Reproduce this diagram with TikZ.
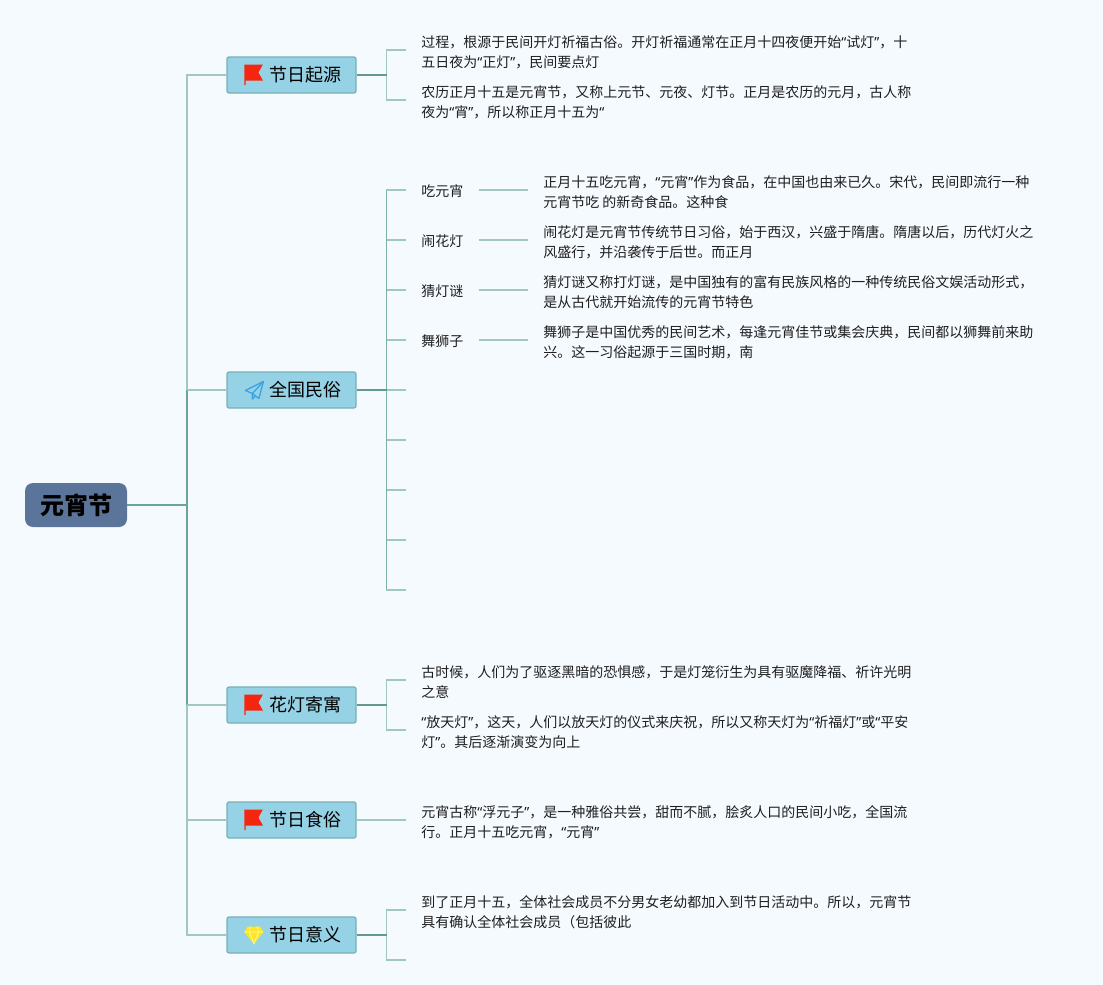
\documentclass[tikz,border=0pt]{standalone}
\usepackage{fontspec}
\setmainfont{Noto Sans CJK SC}
\newfontfamily\latq{Noto Sans}
\newcommand{\ql}{{\latq “}}
\newcommand{\qr}{{\latq ”}}
\usetikzlibrary{calc}
\definecolor{bgc}{HTML}{F5FAFF}
\definecolor{rootc}{HTML}{5B7499}
\definecolor{topicc}{HTML}{96D2E5}
\definecolor{topicb}{HTML}{77B1B5}
\definecolor{dark}{HTML}{6BA598}
\definecolor{deep}{HTML}{64998E}
\definecolor{mid}{HTML}{7FB0A8}
\definecolor{lite}{HTML}{A0C8C0}
\definecolor{txt}{HTML}{1E1E1E}
\definecolor{flagc}{HTML}{F5260F}
\tikzset{
  x=0.75pt,y=-0.75pt,
  rootbox/.style={fill=rootc,draw=none,rounded corners=6pt,minimum width=76.5pt,minimum height=33pt,inner sep=0pt,font=\fontsize{18}{20}\selectfont\bfseries,text=black},
  topic/.style={fill=topicc,draw=topicb,line width=0.9pt,rounded corners=1.5pt,minimum width=96.75pt,minimum height=27pt,inner sep=0pt,font=\fontsize{13.5}{16}\selectfont,text=black},
  body/.style={anchor=west,align=left,inner xsep=11.25pt,inner ysep=0pt,font=\fontsize{10.5}{15}\selectfont,text=txt},
  main/.style={draw=dark,line width=1.1pt},
  mainlite/.style={draw=lite,line width=1.1pt},
  sub/.style={draw=deep,line width=1.1pt},
  spine/.style={draw=mid,line width=1.1pt},
  leaf/.style={draw=lite,line width=1pt},
}
\newcommand{\flagicon}[1]{%
  \begin{scope}[shift={($(#1.west)+(18,0)$)}]
    \fill[flagc] (0,-10.5)--(18.5,-10.5)--(14,-2.5)--(18.5,5.5)--(1.3,5.5)--(1.3,10)--(0,10)--cycle;
  \end{scope}}
\begin{document}
\begin{tikzpicture}
\useasboundingbox[fill=bgc] (0,0) rectangle (1103,985);
% main nodes
\node[rootbox] (root) at (76,505) {\raisebox{-1.6pt}{元宵节}};
\node[topic] (t1) at (291.5,75)  {\hspace{21pt}\raisebox{-1.6pt}{节日起源}};
\node[topic] (t2) at (291.5,390) {\hspace{21pt}\raisebox{-1.6pt}{全国民俗}};
\node[topic] (t3) at (291.5,705) {\hspace{21pt}\raisebox{-1.6pt}{花灯寄寓}};
\node[topic] (t4) at (291.5,820) {\hspace{21pt}\raisebox{-1.6pt}{节日食俗}};
\node[topic] (t5) at (291.5,935) {\hspace{21pt}\raisebox{-1.6pt}{节日意义}};
\coordinate (jr) at (187,505);
% icons
\flagicon{t1}\flagicon{t3}\flagicon{t4}
\begin{scope}[shift={($(t2.west)+(18,0)$)},draw={rgb,255:red,58;green,165;blue,224},line width=1pt,line join=round]
  \draw (19,-8.5)--(1,0.5)--(8,3.5)--cycle;
  \draw (19,-8.5)--(14.5,8.5)--(8,3.5)--(8,9)--(11,6);
\end{scope}
\begin{scope}[shift={($(t5.west)+(18,0)$)}]
  \fill[yellow!85!orange!85!white] (3,-8.5)--(16,-8.5)--(19,-3)--(9.5,9)--(0,-3)--cycle;
  \draw[yellow!40!white,line width=0.5pt] (0,-3)--(19,-3) (6,-8.5)--(5,-3)--(9.5,9)--(14,-3)--(13,-8.5);
\end{scope}
% leaf anchors
\foreach \n/\y in {a1/50,a2/100,b1/190,b2/240,b3/290,b4/340,b5/390,b6/440,b7/490,b8/540,b9/590,c1/680,c2/730,d1/820,e1/910,e2/960}
  \coordinate (\n) at (406,\y);
% main connectors
\draw[mainlite] (jr) |- (t1.west);
\draw[mainlite] (jr) |- (t5.west);
\draw[main] (jr) -- (jr |- t2.west);
\draw[main] (jr) -- (jr |- t3.west);
\draw[main] (root.east) -- (jr);
\draw[mainlite] (jr |- t2.west) -- (t2.west);
\draw[mainlite] (jr |- t3.west) -- (t3.west);
\draw[mainlite] (jr |- t4.west) -- (t4.west);
% sub connectors
\foreach \t/\l in {t1/a1,t1/a2,t3/c1,t3/c2,t5/e1,t5/e2}
  \draw[leaf] ($(\t.east)+(30,0)$) |- (\l);
\foreach \l in {b1,b2,b3,b4,b5,b6,b7,b8,b9}
  \draw[leaf] ($(t2.east)+(30,0)$) |- (\l);
\draw[spine] ($(t2.east)+(30,-199)$) -- ($(t2.east)+(30,199)$);
\foreach \t in {t1,t2,t3,t5}
  \draw[sub] (\t.east) -- ++(30,0);
\draw[leaf] (t4.east) -- (d1);
% leaf texts
\node[body] (ta1) at ($(a1)+(0,2)$) {过程，根源于民间开灯祈福古俗。开灯祈福通常在正月十四夜便开始\ql 试灯\qr，十\\五日夜为\ql 正灯\qr，民间要点灯};
\node[body] (ta2) at ($(a2)+(0,2)$) {农历正月十五是元宵节，又称上元节、元夜、灯节。正月是农历的元月，古人称\\夜为\ql 宵\qr，所以称正月十五为\ql};
\node[body] (tc1) at ($(c1)+(0,2)$) {古时候，人们为了驱逐黑暗的恐惧感，于是灯笼衍生为具有驱魔降福、祈许光明\\之意};
\node[body] (tc2) at ($(c2)+(0,2)$) {\ql 放天灯\qr，这天，人们以放天灯的仪式来庆祝，所以又称天灯为\ql 祈福灯\qr 或\ql 平安\\灯\qr。其后逐渐演变为向上};
\node[body] (td1) at ($(d1)+(0,2)$) {元宵古称\ql 浮元子\qr，是一种雅俗共尝，甜而不腻，脍炙人口的民间小吃，全国流\\行。正月十五吃元宵，\ql 元宵\qr};
\node[body] (te1) at ($(e1)+(0,2)$) {到了正月十五，全体社会成员不分男女老幼都加入到节日活动中。所以，元宵节\\具有确认全体社会成员（包括彼此};
% folk customs
\node[body] (k1) at ($(b1)+(0,1)$) {吃元宵};
\node[body] (k2) at ($(b2)+(0,1)$) {闹花灯};
\node[body] (k3) at ($(b3)+(0,1)$) {猜灯谜};
\node[body] (k4) at ($(b4)+(0,1)$) {舞狮子};
\node[body] (v1) at (528,192) {正月十五吃元宵，\ql 元宵\qr 作为食品，在中国也由来已久。宋代，民间即流行一种\\元宵节吃 的新奇食品。这种食};
\node[body] (v2) at (528,242) {闹花灯是元宵节传统节日习俗，始于西汉，兴盛于隋唐。隋唐以后，历代灯火之\\风盛行，并沿袭传于后世。而正月};
\node[body] (v3) at (528,292) {猜灯谜又称打灯谜，是中国独有的富有民族风格的一种传统民俗文娱活动形式，\\是从古代就开始流传的元宵节特色};
\node[body] (v4) at (528,342) {舞狮子是中国优秀的民间艺术，每逢元宵佳节或集会庆典，民间都以狮舞前来助\\兴。这一习俗起源于三国时期，南};
\foreach \i/\y in {1/190,2/240,3/290,4/340}
  \draw[leaf] (k\i.east |- 0,\y) -- (v\i.west |- 0,\y);
\end{tikzpicture}
\end{document}
